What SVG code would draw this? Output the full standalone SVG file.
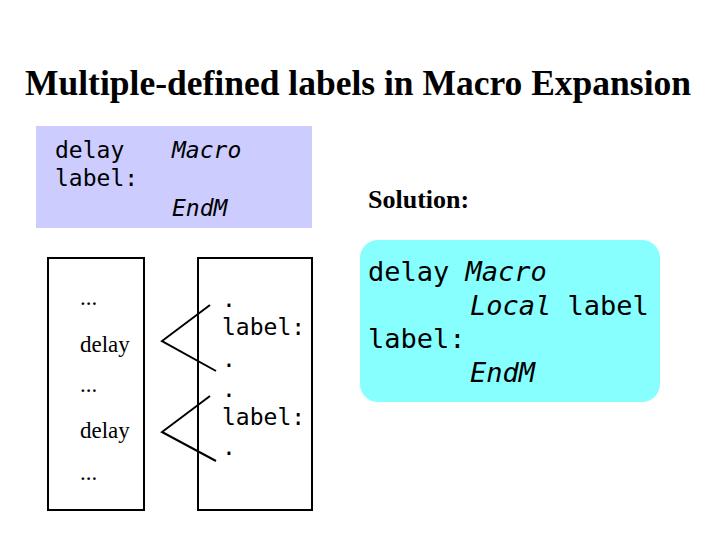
<svg xmlns="http://www.w3.org/2000/svg" width="720" height="540" viewBox="0 0 720 540">
<style>
.m{font-family:"DejaVu Sans Mono",monospace;font-size:23px;fill:#000}
.mi{font-style:italic}
.t{font-family:"Liberation Serif",serif;font-size:23px;fill:#000}
.s{font-family:"DejaVu Sans Mono",monospace;font-size:27px;fill:#000}
.box{fill:#fff;stroke:#000;stroke-width:2}
.ln{fill:none;stroke:#000;stroke-width:2}
</style>
<rect width="720" height="540" fill="#fff"/>
<text x="358" y="95" text-anchor="middle" font-family="Liberation Serif,serif" font-weight="bold" font-size="35.5">Multiple-defined labels in Macro Expansion</text>
<g id="macro">
<rect x="36" y="126" width="276" height="102" fill="#ccccff"/>
<text class="m" x="55" y="158">delay</text>
<text class="m" x="55" y="186">label:</text>
<text class="m mi" x="172" y="158">Macro</text>
<text class="m mi" x="172" y="216">EndM</text>
</g>
<g id="program">
<rect class="box" x="48" y="258" width="96" height="252"/>
<text class="t" x="80" y="305">...</text>
<text class="t" x="80" y="352">delay</text>
<text class="t" x="80" y="392">...</text>
<text class="t" x="80" y="438">delay</text>
<text class="t" x="80" y="480">...</text>
</g>
<g id="expansion">
<rect class="box" x="198" y="258" width="114" height="252"/>
<text class="m" x="222" y="307">.</text>
<text class="m" x="222" y="335">label:</text>
<text class="m" x="222" y="367">.</text>
<text class="m" x="222" y="397">.</text>
<text class="m" x="222" y="425">label:</text>
<text class="m" x="222" y="455">.</text>
</g>
<g id="connectors">
<polyline class="ln" points="210,305 162,341 216,371"/>
<polyline class="ln" points="210,396 162,432 216,461"/>
</g>
<text x="368" y="208" font-family="Liberation Serif,serif" font-weight="bold" font-size="26">Solution:</text>
<g id="solution">
<rect x="360" y="240" width="300" height="162" rx="18" fill="#88ffff"/>
<text class="s" x="368" y="281">delay <tspan font-style="italic">Macro</tspan></text>
<text class="s" x="470" y="315"><tspan font-style="italic">Local</tspan> label</text>
<text class="s" x="368" y="348">label:</text>
<text class="s" x="470" y="382" font-style="italic">EndM</text>
</g>
</svg>
